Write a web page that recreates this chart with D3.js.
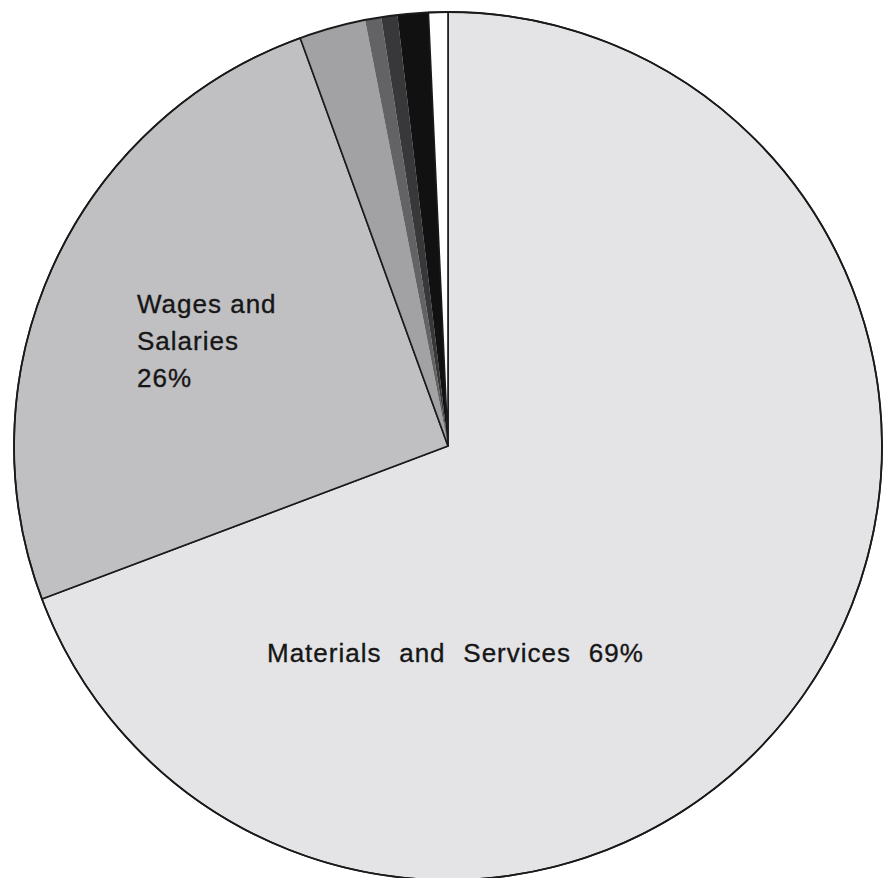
<!DOCTYPE html>
<html>
<head>
<meta charset="utf-8">
<script src="https://cdn.jsdelivr.net/npm/d3@7"></script>
<style>
  html, body { margin: 0; padding: 0; background: #ffffff; }
  svg { display: block; }
  text { font-family: "Liberation Sans", Arial, Helvetica, sans-serif; fill: #161616; stroke: #161616; stroke-width: 0.35px; }
</style>
</head>
<body>
<svg id="chart" width="894" height="878"></svg>
<script>
// Data (shares in percent, clockwise from 12 o'clock)
const categories = ["Materials and Services", "Wages and Salaries", "Other 1", "Other 2", "Other 3", "Other 4", "Other 5"];
const values = [69.25, 25.2, 2.47, 0.6, 0.6, 1.14, 0.72];
const fills = ["#e4e4e6", "#c0c0c2", "#a2a2a4", "#636365", "#38383a", "#111111", "#ffffff"];
const labelLines = [["Materials and Services 69%"], ["Wages and", "Salaries", "26%"]];

const svg = d3.select("#chart");
const cx = 448, cy = 446, r = 434;

const g = svg.append("g").attr("transform", `translate(${cx},${cy})`);

const pie = d3.pie().sort(null).value(d => d).startAngle(0).endAngle(2 * Math.PI);
const arcs = pie(values);
const arc = d3.arc().innerRadius(0).outerRadius(r);

g.selectAll("path.slice")
  .data(arcs)
  .join("path")
  .attr("class", "slice")
  .attr("d", arc)
  .attr("fill", (d, i) => fills[i])
  .attr("stroke", (d, i) => (i >= 2 && i <= 5) ? "none" : "#1a1a1a")
  .attr("stroke-width", 1.6)
  .attr("stroke-linejoin", "round");

// boundary line between Wages and the first small slice
const b = arcs[2].startAngle;
g.append("line")
  .attr("x1", 0).attr("y1", 0)
  .attr("x2", r * Math.sin(b)).attr("y2", -r * Math.cos(b))
  .attr("stroke", "#1a1a1a").attr("stroke-width", 1.6);

// outer rim
g.append("circle").attr("r", r).attr("fill", "none").attr("stroke", "#1a1a1a").attr("stroke-width", 1.8);

// labels
svg.append("text")
  .attr("x", 267).attr("y", 662)
  .attr("font-size", 26)
  .attr("letter-spacing", 1)
  .attr("word-spacing", 9.5)
  .text(labelLines[0][0]);

const t2 = svg.append("text")
  .attr("font-size", 26)
  .attr("letter-spacing", 1);
labelLines[1].forEach((line, i) => {
  t2.append("tspan").attr("x", 137).attr("y", 313 + i * 37).text(line);
});
</script>
</body>
</html>
